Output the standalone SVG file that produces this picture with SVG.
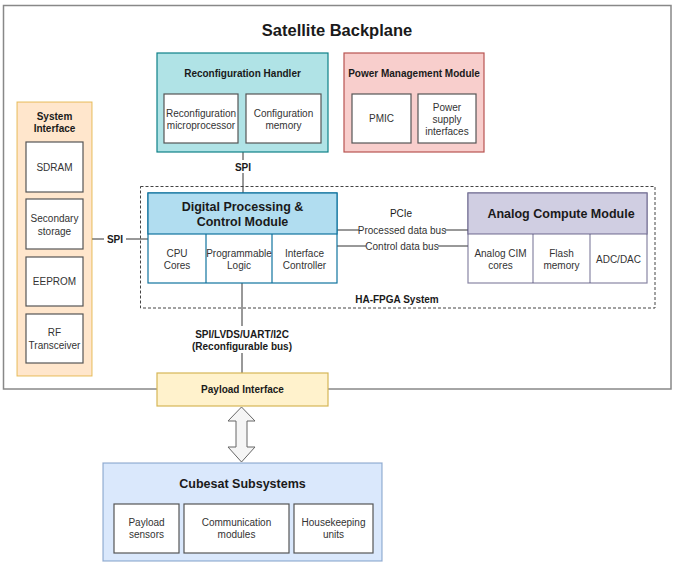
<svg xmlns="http://www.w3.org/2000/svg" width="675" height="563" viewBox="0 0 675 563">
<style>
text{font-family:"Liberation Sans",Arial,sans-serif;fill:#1a1a1a;text-anchor:middle;dominant-baseline:central}
.b{font-weight:bold}
.s{font-size:10px;fill:#333}
.t{font-size:10px;font-weight:bold}
.inner{fill:#ffffff;stroke:#555555;stroke-width:1.2}
.ln{stroke:#333333;stroke-width:1;fill:none}
</style>
<rect width="675" height="563" fill="#ffffff"/>
<g id="backplane">
<rect x="3.5" y="5.5" width="667.5" height="383.5" fill="#ffffff" stroke="#888888" stroke-width="1.5"/>
<text x="337" y="30" class="b" font-size="16.5">Satellite Backplane</text>
</g>
<g id="ha-fpga">
<rect x="140.5" y="186.5" width="514.5" height="121.5" fill="none" stroke="#444444" stroke-width="1" stroke-dasharray="3,2"/>
<text x="397" y="299" class="t">HA-FPGA System</text>
</g>
<g id="connectors">
<line class="ln" x1="243" y1="152" x2="243" y2="193"/>
<rect x="232" y="160" width="22" height="13" fill="#ffffff"/>
<text x="243" y="167" class="t">SPI</text>
<line class="ln" x1="92" y1="239" x2="148" y2="239"/>
<rect x="104" y="232" width="22" height="14" fill="#ffffff"/>
<text x="115" y="239" class="t">SPI</text>
<line class="ln" x1="242" y1="283" x2="242" y2="373"/>
<rect x="190" y="326" width="104" height="27" fill="#ffffff"/>
<text x="242" y="334" class="t">SPI/LVDS/UART/I2C</text>
<text x="242" y="346" class="t">(Reconfigurable bus)</text>
<line class="ln" x1="337" y1="230" x2="468" y2="230"/>
<line class="ln" x1="337" y1="246" x2="468" y2="246"/>
<rect x="359" y="224" width="86" height="12" fill="#ffffff"/>
<rect x="366" y="240" width="72" height="12" fill="#ffffff"/>
<text x="401" y="213" font-size="10" fill="#222">PCIe</text>
<text x="402" y="230" class="s" font-size="9.3">Processed data bus</text>
<text x="402" y="246" class="s" font-size="9.3">Control data bus</text>
<path d="M241.5 407 L255 421 L247 421 L247 447 L255 447 L241.5 462 L228 447 L236 447 L236 421 L228 421 Z" fill="#f5f5f5" stroke="#666666" stroke-width="1"/>
</g>
<g id="reconfiguration-handler">
<rect x="157" y="53" width="171" height="99" fill="#b0e3e6" stroke="#0e8088" stroke-width="1.2"/>
<text x="242.5" y="73" class="t">Reconfiguration Handler</text>
<rect class="inner" x="164" y="94" width="74" height="49"/>
<text x="201" y="113" class="s">Reconfiguration</text>
<text x="201" y="125" class="s">microprocessor</text>
<rect class="inner" x="246" y="94" width="75" height="49"/>
<text x="283.5" y="113" class="s">Configuration</text>
<text x="283.5" y="125" class="s">memory</text>
</g>
<g id="power-management">
<rect x="344" y="53" width="140" height="99" fill="#f8cecc" stroke="#b85450" stroke-width="1.2"/>
<text x="414" y="73" class="t">Power Management Module</text>
<rect class="inner" x="352" y="94" width="59" height="49"/>
<text x="381.5" y="118.5" class="s">PMIC</text>
<rect class="inner" x="418" y="94" width="58" height="49"/>
<text x="447" y="107" class="s">Power</text>
<text x="447" y="119" class="s">supply</text>
<text x="447" y="131" class="s">interfaces</text>
</g>
<g id="system-interface">
<rect x="17" y="102" width="75" height="274" fill="#ffe6cc" stroke="#d79b00" stroke-width="1" stroke-opacity="0.6"/>
<text x="54.5" y="116" class="t">System</text>
<text x="54.5" y="128" class="t">Interface</text>
<rect class="inner" x="26" y="142" width="57" height="50"/>
<text x="54.5" y="167" class="s" font-size="11">SDRAM</text>
<rect class="inner" x="26" y="199" width="57" height="50"/>
<text x="54.5" y="218" class="s">Secondary</text>
<text x="54.5" y="231" class="s">storage</text>
<rect class="inner" x="26" y="257" width="57" height="49"/>
<text x="54.5" y="281.5" class="s" font-size="11">EEPROM</text>
<rect class="inner" x="26" y="314" width="57" height="49"/>
<text x="54.5" y="332" class="s">RF</text>
<text x="54.5" y="345" class="s">Transceiver</text>
</g>
<g id="digital-processing">
<rect x="148" y="193" width="189" height="90" fill="#ffffff" stroke="#10739e" stroke-width="1.2"/>
<rect x="148" y="193" width="189" height="41" fill="#b1ddf0" stroke="#10739e" stroke-width="1.2"/>
<line x1="206" y1="234" x2="206" y2="283" stroke="#10739e" stroke-width="1.2"/>
<line x1="272" y1="234" x2="272" y2="283" stroke="#10739e" stroke-width="1.2"/>
<text x="242.5" y="207" class="b" font-size="12.5">Digital Processing &amp;</text>
<text x="242.5" y="222" class="b" font-size="12.5">Control Module</text>
<text x="177" y="253" class="s">CPU</text>
<text x="177" y="265" class="s">Cores</text>
<text x="239" y="253" class="s">Programmable</text>
<text x="239" y="265" class="s">Logic</text>
<text x="304.5" y="253" class="s">Interface</text>
<text x="304.5" y="265" class="s">Controller</text>
</g>
<g id="analog-compute">
<rect x="468" y="193" width="179" height="90" fill="#ffffff" stroke="#56517e" stroke-width="1.2" stroke-opacity="0.7"/>
<rect x="468" y="193" width="179" height="41" fill="#d0cee2" stroke="#56517e" stroke-width="1.2" stroke-opacity="0.7"/>
<line x1="533" y1="234" x2="533" y2="283" stroke="#56517e" stroke-width="1.2" stroke-opacity="0.7"/>
<line x1="590" y1="234" x2="590" y2="283" stroke="#56517e" stroke-width="1.2" stroke-opacity="0.7"/>
<text x="561" y="214" class="b" font-size="12.5">Analog Compute Module</text>
<text x="500.5" y="253" class="s">Analog CIM</text>
<text x="500.5" y="265" class="s">cores</text>
<text x="561.5" y="253" class="s">Flash</text>
<text x="561.5" y="265" class="s">memory</text>
<text x="618.5" y="259" class="s">ADC/DAC</text>
</g>
<g id="payload-interface">
<rect x="157" y="373" width="171" height="33" fill="#fff2cc" stroke="#d6b656" stroke-width="1.2"/>
<text x="242.5" y="389" class="t">Payload Interface</text>
</g>
<g id="cubesat-subsystems">
<rect x="103" y="463" width="279" height="98" fill="#dae8fc" stroke="#6c8ebf" stroke-width="1.2" stroke-opacity="0.7"/>
<text x="242.5" y="484" class="b" font-size="12.5">Cubesat Subsystems</text>
<rect class="inner" x="114" y="504" width="65" height="49"/>
<text x="146.5" y="522" class="s">Payload</text>
<text x="146.5" y="534" class="s">sensors</text>
<rect class="inner" x="184" y="504" width="105" height="49"/>
<text x="236.5" y="522" class="s">Communication</text>
<text x="236.5" y="534" class="s">modules</text>
<rect class="inner" x="294" y="504" width="79" height="49"/>
<text x="333.5" y="522" class="s">Housekeeping</text>
<text x="333.5" y="534" class="s">units</text>
</g>
</svg>
